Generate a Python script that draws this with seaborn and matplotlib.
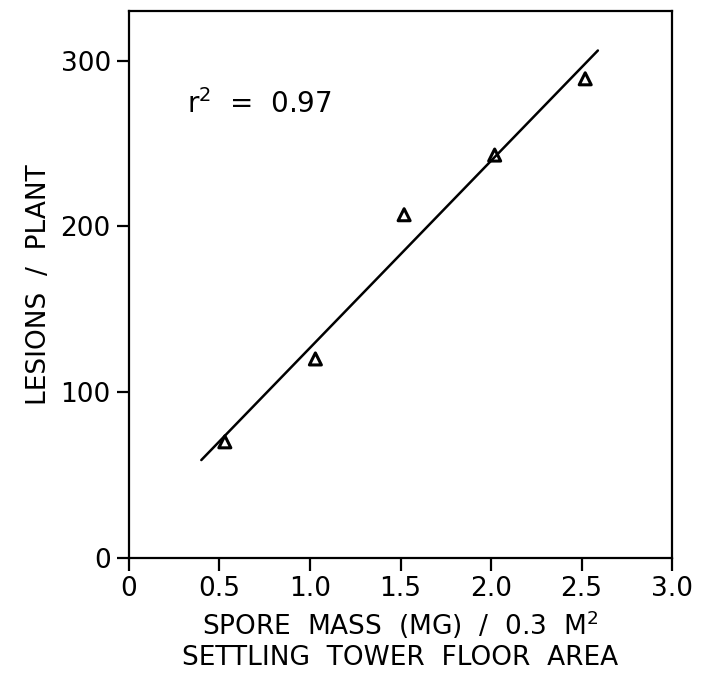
import numpy as np
import pandas as pd
import matplotlib
matplotlib.use("Agg")
import matplotlib.pyplot as plt
import seaborn as sns

# spore mass (mg / 0.3 m2) vs lesions per plant
spore_mass = [0.53, 1.03, 1.52, 2.02, 2.52]
lesions = [70, 120, 207, 243, 289]
r_squared = 0.97
x_ticks = [0, 0.5, 1.0, 1.5, 2.0, 2.5, 3.0]
x_tick_labels = ["0", "0.5", "1.0", "1.5", "2.0", "2.5", "3.0"]
y_ticks = [0, 100, 200, 300]

sns.set_style("ticks")
plt.rcParams["font.family"] = ["DejaVu Sans"]
plt.rcParams["mathtext.default"] = "regular"
plt.rcParams["text.color"] = "black"
plt.rcParams["axes.labelcolor"] = "black"
plt.rcParams["xtick.color"] = "black"
plt.rcParams["ytick.color"] = "black"
plt.rcParams["axes.edgecolor"] = "black"

df = pd.DataFrame({"mass": spore_mass, "lesions": lesions})

# least squares fit line
slope, icpt = np.polyfit(df["mass"], df["lesions"], 1)
fit = pd.DataFrame({"mass": [0.4, 2.59]})
fit["lesions"] = icpt + slope * fit["mass"]

fig = plt.figure(figsize=(7.12, 6.77), dpi=100)
ax = fig.add_axes([0.181, 0.176, 0.763, 0.808])

sns.lineplot(data=fit, x="mass", y="lesions", color="black", linewidth=1.8, ax=ax)
sns.scatterplot(data=df, x="mass", y="lesions", marker="^", s=75,
                facecolor="none", edgecolor="black", linewidth=2.2, ax=ax, zorder=3)

ax.set_xlim(0, 3.0)
ax.set_ylim(0, 330)
ax.set_xticks(x_ticks)
ax.set_xticklabels(x_tick_labels)
ax.set_yticks(y_ticks)
ax.tick_params(direction="out", length=9, width=1.6, labelsize=19, pad=4)
for s in ax.spines.values():
    s.set_linewidth(1.6)
    s.set_visible(True)

ax.text(0.32, 274, f"r$^2$  =  {r_squared:.2f}", fontsize=20, va="center", ha="left")

ax.set_xlabel("SPORE  MASS  (MG)  /  0.3  M$^2$\nSETTLING  TOWER  FLOOR  AREA",
              fontsize=19, linespacing=1.2, labelpad=5)
ax.set_ylabel("LESIONS  /  PLANT", fontsize=19, labelpad=6)

fig.savefig("out.png", dpi=100)
